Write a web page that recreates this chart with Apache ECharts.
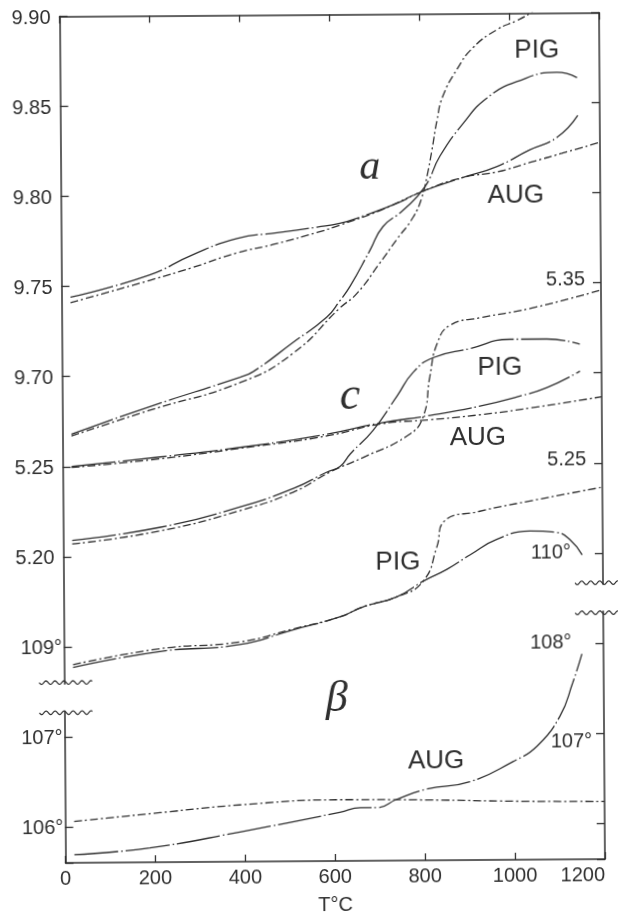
<!DOCTYPE html>
<html><head><meta charset="utf-8">
<script src="https://cdn.jsdelivr.net/npm/echarts@6/dist/echarts.min.js"></script>
<style>
html,body{margin:0;padding:0;background:#fff;}
#chart{width:618px;height:920px;transform:rotate(-0.4deg);transform-origin:332.5px 438px;}
</style></head><body><div id="chart"></div>
<script>
// ---------- tick labels ----------
const xTickLabels = ['0','200','400','600','800','1000','1200'];
const leftTickLabels  = ['9.90','9.85','9.80','9.75','9.70','5.25','5.20','109°','107°','106°'];
const rightTickLabels = ['', '', '', '5.35', '', '5.25', '110°', '108°', '107°', ''];

// ---------- a (Å) ----------
const T_aPig1 = [20,195,396,425,514,590,619,642,687,716,761,810,844,896,949,1016,1105,1150];
const aPig1   = [9.668,9.683,9.699,9.702,9.718,9.732,9.741,9.749,9.769,9.782,9.791,9.804,9.821,9.839,9.853,9.862,9.867,9.864];
const T_aPig2 = [20,195,396,514,619,657,709,747,783,803,815,826,838,851,883,919,973,1018,1047,1080];
const aPig2   = [9.667,9.681,9.696,9.712,9.737,9.745,9.762,9.775,9.787,9.798,9.810,9.824,9.841,9.854,9.869,9.881,9.891,9.896,9.900,9.906];
const T_aAug1 = [20,195,291,391,480,569,620,672,748,810,895,971,1043,1105,1151];
const aAug1   = [9.744,9.756,9.767,9.776,9.779,9.782,9.784,9.788,9.795,9.802,9.809,9.815,9.824,9.831,9.843];
const T_aAug2 = [20,195,291,391,480,569,620,710,810,895,971,1043,1115,1200];
const aAug2   = [9.741,9.753,9.760,9.768,9.773,9.779,9.783,9.791,9.802,9.809,9.812,9.817,9.822,9.828];

// ---------- c (Å) ----------
const T_cPig1 = [20,217,395,513,588,617,640,691,745,781,825,908,997,1079,1152];
const cPig1   = [5.209,5.216,5.227,5.237,5.246,5.249,5.256,5.269,5.288,5.301,5.309,5.314,5.319,5.319,5.316];
const T_cPig2 = [20,217,395,513,595,669,768,802,818,835,864,930,1042,1200];
const cPig2   = [5.207,5.214,5.225,5.235,5.246,5.254,5.266,5.276,5.2985,5.317,5.327,5.331,5.336,5.346];
const T_cAug1 = [20,217,395,588,707,818,929,1012,1078,1152];
const cAug1   = [5.250,5.255,5.260,5.267,5.273,5.277,5.282,5.287,5.292,5.301];
const T_cAug2 = [20,217,395,588,707,818,929,1042,1200];
const cAug2   = [5.2495,5.254,5.2595,5.266,5.2725,5.2746,5.2772,5.2808,5.2867];

// ---------- beta (degrees) ----------
const T_bPig1 = [20,213,391,510,614,666,742,800,853,905,965,1038,1098,1127,1154];
const bPig1   = [108.77,108.94,109.01,109.17,109.31,109.42,109.53,109.70,109.83,109.99,110.16,110.25,110.23,110.15,109.98];
const T_bPig2 = [20,213,391,510,614,666,742,800,831,847,925,1036,1200];
const bPig2   = [108.80,108.97,109.04,109.18,109.31,109.42,109.53,109.70,110.08,110.36,110.47,110.58,110.73];
const T_bAug1 = [20,188,389,611,657,694,738,804,901,997,1051,1102,1131,1152];
const bAug1   = [105.69,105.76,105.93,106.14,106.19,106.19,106.28,106.39,106.47,106.69,106.86,107.19,107.56,107.88];
const T_bAug2 = [20,211,389,611,811,1000,1200];
const bAug2   = [106.06,106.15,106.23,106.28,106.27,106.25,106.24];

// ---------- annotation texts ----------
const notes = [
  {text:'PIG', T:1061, u:0.41, kind:'lab'},
  {text:'AUG', T:1012, u:2.03, kind:'lab'},
  {text:'a',   T:688,  u:1.70, kind:'sym', size:42},
  {text:'PIG', T:974,  u:3.93, kind:'lab'},
  {text:'c',   T:640,  u:4.25, kind:'sym', size:46},
  {text:'AUG', T:924,  u:4.71, kind:'lab'},
  {text:'PIG', T:744,  u:6.09, kind:'lab'},
  {text:'β',   T:606,  u:7.61, kind:'sym', size:44},
  {text:'AUG', T:826,  u:8.30, kind:'lab'}
];
// axis break positions (in label-axis units)
const leftBreakU = [7.398, 7.732];
const rightBreakU = [6.330, 6.663];

const FONT = '"Liberation Sans", Arial, sans-serif';
const SERIF = '"Liberation Serif", serif';
const INK = '#2f2f2f';
const SOLID = [44, 3, 1.5, 3];
const DASH = [8, 3, 2, 3];

const chart = echarts.init(document.getElementById('chart'), null, {renderer:'canvas'});

function mk(T, V, yIdx, solid){
  return {
    type:'line', yAxisIndex:yIdx, xAxisIndex:0,
    data: T.map((t,i)=>[t,V[i]]),
    symbol:'none', showSymbol:false, smooth:0.5,
    clip:true, silent:true, animation:false,
    lineStyle:{color:INK, width:1.3, type: solid?SOLID:DASH}
  };
}
const txt = {fontSize:20, fontFamily:FONT, color:INK};

function tickFmt(arr, styleOf){
  return function(v){
    const i = Math.round(v);
    if (Math.abs(v-i) > 1e-6) return '';
    const s = arr[i] || '';
    if (!s) return '';
    return '{' + styleOf(s, i) + '|' + s + '}';
  };
}

const hiddenY = (mn,mx)=>({type:'value', min:mn, max:mx, show:false, axisLine:{onZero:false}, splitLine:{show:false}});
const lineCfg = {show:true, onZero:false, lineStyle:{color:INK, width:1.5}};

const option = {
  backgroundColor:'#ffffff',
  animation:false,
  grid:{left:62.5, right:16, top:14.5, bottom:58.5, containLabel:false},
  xAxis:[
    {type:'value', min:0, max:1200, interval:200, position:'bottom',
     axisLine:lineCfg,
     axisTick:{show:true, inside:true, length:7, lineStyle:{color:INK, width:1.3}},
     axisLabel:{...txt, margin:6, alignMaxLabel:'right', formatter:(v)=>xTickLabels[Math.round(v/200)]||''},
     splitLine:{show:false},
     name:'T°C', nameLocation:'middle', nameGap:34, nameTextStyle:{...txt}},
    {type:'value', min:0, max:1200, interval:200, position:'top',
     axisLine:lineCfg,
     axisTick:{show:true, inside:true, length:7, lineStyle:{color:INK, width:1.3}},
     axisLabel:{show:false}, splitLine:{show:false}}
  ],
  yAxis:[
    {type:'value', inverse:true, min:0, max:9.4, interval:1, position:'left',
     axisLine:lineCfg,
     axisTick:{show:true, inside:true, length:8, lineStyle:{color:INK, width:1.3}},
     axisLabel:{...txt, margin:2,
       formatter: tickFmt(leftTickLabels, s => s.endsWith('°') ? 'd' : 'n'),
       rich:{ n:{...txt, padding:[4,7,0,0]}, d:{...txt, padding:[4,0,0,0]} }},
     splitLine:{show:false}},
    {type:'value', inverse:true, min:0, max:9.4, interval:1, position:'right',
     axisLine:lineCfg,
     axisTick:{show:true, inside:true, length:8, lineStyle:{color:INK, width:1.3}},
     axisLabel:{...txt, inside:true, margin:10,
       formatter: tickFmt(rightTickLabels, (s,i) => s.endsWith('°') ? (s==='107°' ? 'e' : 'd') : 'n'),
       rich:{ n:{...txt, padding:[0,6,6,0]}, d:{...txt, padding:[0,22,0,0]}, e:{...txt, padding:[17,2,0,0]} }},
     splitLine:{show:false}},
    hiddenY(9.43, 9.90),   // a
    hiddenY(5.03, 5.50),   // c
    hiddenY(106.6, 116),   // beta PIG
    hiddenY(105.6, 115)    // beta AUG
  ],
  series:[
    mk(T_aPig1, aPig1, 2, true),
    mk(T_aPig2, aPig2, 2, false),
    mk(T_aAug1, aAug1, 2, true),
    mk(T_aAug2, aAug2, 2, false),
    mk(T_cPig1, cPig1, 3, true),
    mk(T_cPig2, cPig2, 3, false),
    mk(T_cAug1, cAug1, 3, true),
    mk(T_cAug2, cAug2, 3, false),
    mk(T_bPig1, bPig1, 4, true),
    mk(T_bPig2, bPig2, 4, false),
    mk(T_bAug1, bAug1, 5, true),
    mk(T_bAug2, bAug2, 5, false)
  ]
};
chart.setOption(option);

// ---------- decorations: axis breaks and annotation texts ----------
function wave(x0, x1, y){
  const pts = [];
  for (let x = x0; x <= x1; x += 1) pts.push([x, y + 1.8*Math.sin(2*Math.PI*(x-x0)/9)]);
  return {type:'polyline', shape:{points:pts}, style:{stroke:INK, lineWidth:1.2, fill:null}, z:10, silent:true};
}
const xl = chart.convertToPixel({xAxisIndex:0}, 0);
const xr = chart.convertToPixel({xAxisIndex:0}, 1200);
const py = u => chart.convertToPixel({yAxisIndex:0}, u);
const g = [];
{
  const y0 = py(leftBreakU[0]), y1 = py(leftBreakU[1]);
  g.push({type:'rect', shape:{x:xl-3, y:y0+2, width:6, height:y1-y0-4}, style:{fill:'#ffffff'}, z:9, silent:true});
  g.push(wave(xl-25, xl+28, y0));
  g.push(wave(xl-25, xl+28, y1));
}
{
  const y0 = py(rightBreakU[0]), y1 = py(rightBreakU[1]);
  g.push({type:'rect', shape:{x:xr-3, y:y0+2, width:6, height:y1-y0-4}, style:{fill:'#ffffff'}, z:9, silent:true});
  g.push(wave(xr-28, xr+15, y0));
  g.push(wave(xr-28, xr+15, y1));
}
notes.forEach(n => {
  const p = chart.convertToPixel({xAxisIndex:0, yAxisIndex:0}, [n.T, n.u]);
  const font = n.kind === 'sym'
    ? 'italic ' + n.size + 'px ' + SERIF
    : '26px ' + FONT;
  g.push({type:'text', x:p[0], y:p[1], z:11, silent:true,
    style:{text:n.text, font:font, fill:INK, textAlign:'center', textVerticalAlign:'middle'}});
});
chart.setOption({graphic:g});
</script></body></html>
